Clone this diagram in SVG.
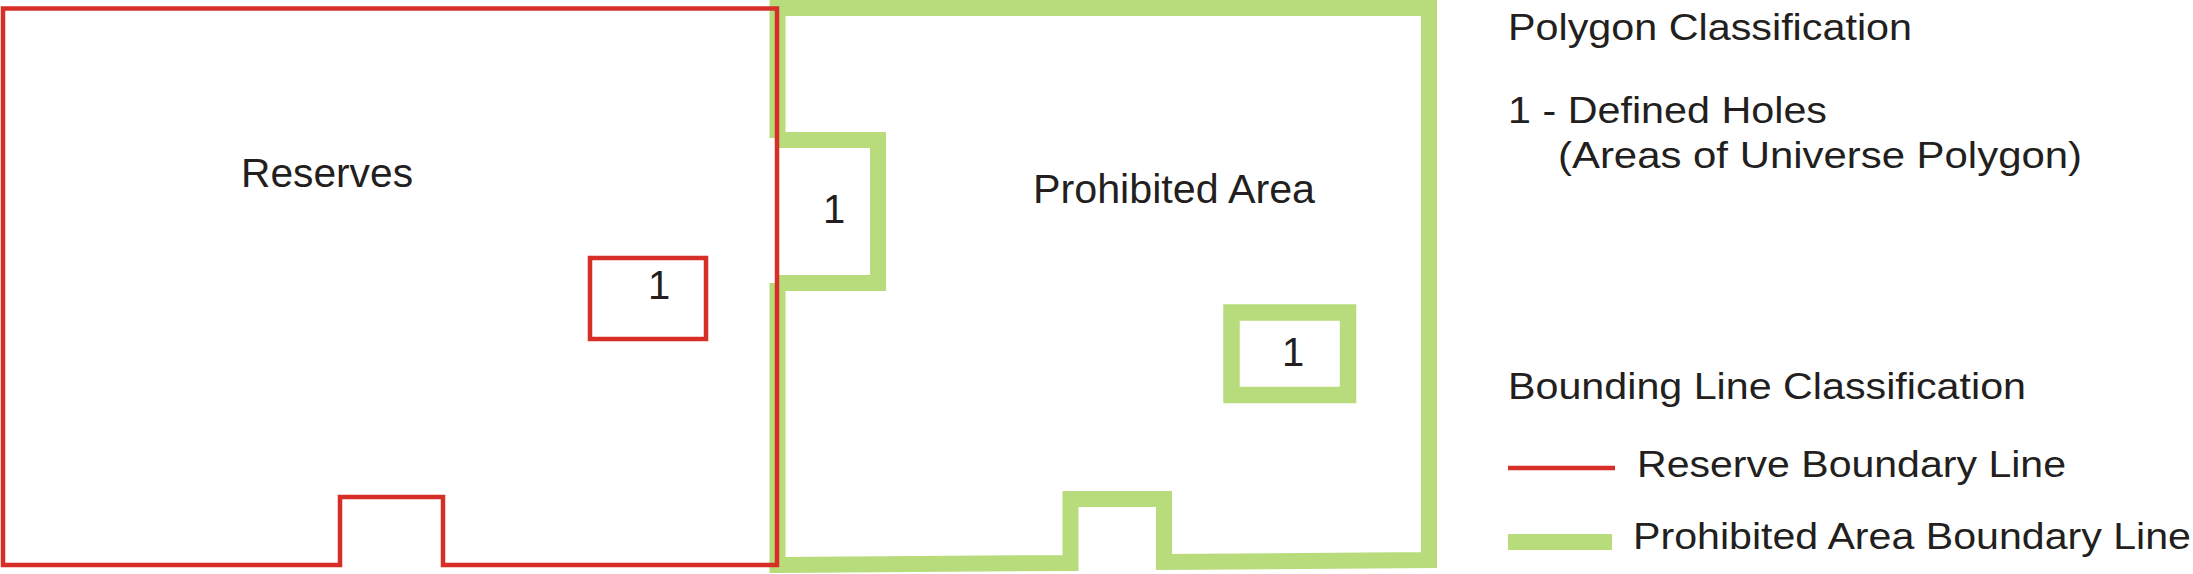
<svg xmlns="http://www.w3.org/2000/svg" width="2193" height="574" viewBox="0 0 2193 574">
<style>
.red{fill:none;stroke:#d52f27;stroke-width:4.5;stroke-linejoin:miter;stroke-linecap:butt}
.green{fill:none;stroke:#b8dc7c;stroke-width:16;stroke-linejoin:miter;stroke-linecap:butt}
.lbl{font-family:"Liberation Sans",Arial,sans-serif;fill:#231f20}
.big{font-size:40px}
.leg{font-size:37px}
</style>
<rect x="0" y="0" width="2193" height="574" fill="#ffffff"/>
<g id="connectors">
  <g id="prohibited-boundary">
    <path class="green" d="M777.5,0 V138"/>
    <path class="green" d="M778,140 H878 V283 H778"/>
    <path class="green" d="M777.5,283 V573"/>
    <path class="green" d="M778,565 L1070.5,563 V499 H1164 V562 L1429,560 V8 H778"/>
    <rect class="green" x="1231.5" y="312.5" width="116.5" height="82.5" style="stroke-width:16.5"/>
  </g>
  <g id="reserve-boundary">
    <path class="red" d="M3,8.5 H777 V565 H443 V497 H340 V565 H3 Z"/>
    <rect class="red" x="590" y="258" width="116" height="81"/>
  </g>
</g>
<g id="node-reserves">
  <text class="lbl big" x="241" y="187" textLength="172" lengthAdjust="spacingAndGlyphs">Reserves</text>
</g>
<g id="node-reserve-hole">
  <text class="lbl big" x="659" y="299" text-anchor="middle">1</text>
</g>
<g id="node-prohibited">
  <text class="lbl big" x="1033" y="203" textLength="282" lengthAdjust="spacingAndGlyphs">Prohibited Area</text>
</g>
<g id="node-notch-hole">
  <text class="lbl big" x="834" y="223" text-anchor="middle">1</text>
</g>
<g id="node-prohibited-hole">
  <text class="lbl big" x="1293" y="366" text-anchor="middle">1</text>
</g>
<g id="legend">
  <text class="lbl leg" x="1508" y="40" textLength="404" lengthAdjust="spacingAndGlyphs">Polygon Classification</text>
  <text class="lbl leg" x="1508" y="123" textLength="319" lengthAdjust="spacingAndGlyphs">1 - Defined Holes</text>
  <text class="lbl leg" x="1558" y="168" textLength="524" lengthAdjust="spacingAndGlyphs">(Areas of Universe Polygon)</text>
  <text class="lbl leg" x="1508" y="399" textLength="518" lengthAdjust="spacingAndGlyphs">Bounding Line Classification</text>
  <line class="red" x1="1508" y1="468" x2="1615" y2="468"/>
  <text class="lbl leg" x="1637" y="477" textLength="429" lengthAdjust="spacingAndGlyphs">Reserve Boundary Line</text>
  <line class="green" x1="1508" y1="542" x2="1612" y2="542"/>
  <text class="lbl leg" x="1633" y="549" textLength="558" lengthAdjust="spacingAndGlyphs">Prohibited Area Boundary Line</text>
</g>
</svg>
